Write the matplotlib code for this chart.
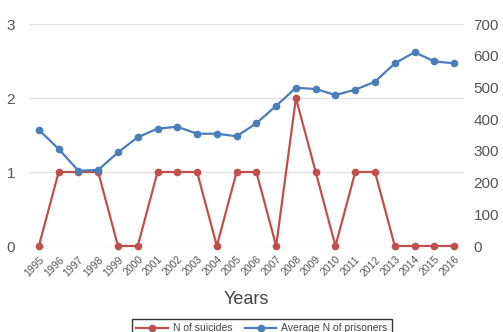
import matplotlib
matplotlib.use("Agg")
import matplotlib.pyplot as plt

plt.rcParams["font.family"] = ["Liberation Sans", "DejaVu Sans"]

years = [str(y) for y in range(1995, 2017)]
suicides = [0, 1, 1, 1, 0, 0, 1, 1, 1, 0, 1, 1, 0, 2, 1, 0, 1, 1, 0, 0, 0, 0]
prisoners = [366, 306, 237, 240, 295, 343, 370, 376, 354, 354, 346, 387,
             442, 499, 495, 476, 493, 518, 576, 611, 582, 576]
left_ticks = [0, 1, 2, 3]
right_ticks = [0, 100, 200, 300, 400, 500, 600, 700]

RED = "#C0504D"
BLUE = "#4A7EBB"
GREY = "#555555"

fig = plt.figure(figsize=(5.03, 3.32), dpi=100)
ax = fig.add_axes([29 / 503, 1 - 246 / 332, 435 / 503, 222 / 332])
ax2 = ax.twinx()

x = list(range(len(years)))
l1, = ax.plot(x, suicides, color=RED, lw=1.6, marker="o", ms=4.5,
              clip_on=False, zorder=3, label="N of suicides")
l2, = ax2.plot(x, prisoners, color=BLUE, lw=1.6, marker="o", ms=4.5,
               clip_on=False, zorder=3, label="Average N of prisoners")

ax.set_xlim(-0.5, len(years) - 0.5)
ax.set_ylim(0, 3)
ax2.set_ylim(0, 700)
ax.set_yticks(left_ticks)
ax2.set_yticks(right_ticks)
ax.grid(axis="y", color="#E2E2E2", lw=1)
ax.set_axisbelow(True)

for a in (ax, ax2):
    for s in a.spines.values():
        s.set_visible(False)
ax.tick_params(axis="y", length=0, labelsize=11, labelcolor=GREY, pad=10)
ax2.tick_params(axis="y", length=0, labelsize=11, labelcolor=GREY, pad=7)
ax.set_xticks(x)
ax.set_xticklabels(years, rotation=45, ha="right", rotation_mode="anchor",
                   fontsize=7.5, color=GREY)
ax.tick_params(axis="x", length=0, pad=6)

ax.set_xlabel("Years", fontsize=13, color="#444444", labelpad=9)

leg = fig.legend(handles=[l1, l2], loc="upper center",
                 bbox_to_anchor=(262 / 503, 1 - 314 / 332), ncol=2,
                 fontsize=7.5, frameon=True, fancybox=False, borderpad=0.4,
                 handlelength=3, columnspacing=1.2, handletextpad=0.5)
leg.get_frame().set_edgecolor("black")
leg.get_frame().set_linewidth(1)
for t in leg.get_texts():
    t.set_color("#444444")

fig.savefig("out.png", dpi=100)
